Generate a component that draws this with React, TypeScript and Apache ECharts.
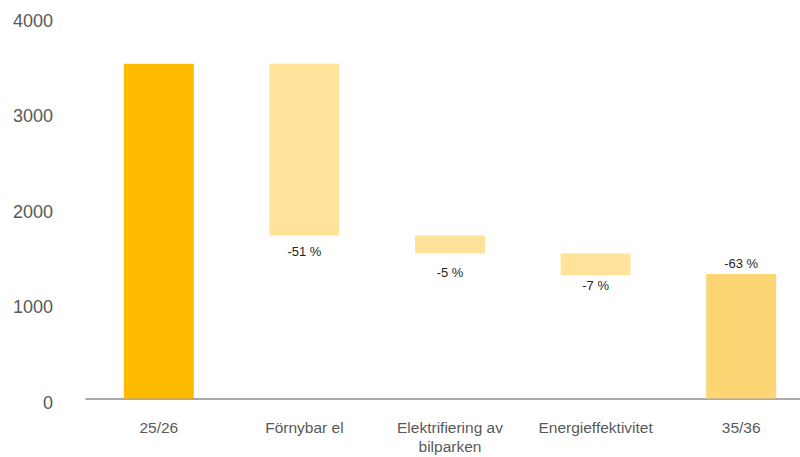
import React, { useEffect, useRef } from "react";
import * as echarts from "echarts";

const categories = ["25/26", "Förnybar el", "Elektrifiering av\nbilparken", "Energieffektivitet", "35/36"];
const startTotal = 3510;
const stepEnds = [1710, 1520, 1292];
const endTotal = 1305;
const pctLabels = ["", "-51 %", "-5 %", "-7 %", "-63 %"];
const yTicks = [0, 1000, 2000, 3000, 4000];

const colorStart = "#FFBB00";
const colorStep = "#FFE39B";
const colorEnd = "#FDD574";

export default function App() {
  const ref = useRef<HTMLDivElement>(null);
  useEffect(() => {
    if (!ref.current) return;
    const chart = echarts.init(ref.current, undefined, { renderer: "svg" });
    const tops = [startTotal, startTotal, ...stepEnds.slice(0, -1)];
    const base: number[] = [0, ...stepEnds, 0];
    const vis: number[] = [
      startTotal,
      ...stepEnds.map((v, i) => tops[i + 1] - v),
      endTotal,
    ];
    const labelDist = [0, 10, 12, 4, 4];
    const visData = vis.map((v, i) => ({
      value: v,
      itemStyle: { color: i === 0 ? colorStart : i === vis.length - 1 ? colorEnd : colorStep },
      label: {
        show: pctLabels[i] !== "",
        formatter: pctLabels[i],
        position: i === vis.length - 1 ? "top" : "bottom",
        distance: labelDist[i],
      },
    }));
    chart.setOption({
      animation: false,
      grid: { left: 86, width: 728, top: 17, height: 381.5, outerBoundsMode: "none", containLabel: false },
      xAxis: {
        type: "category",
        data: categories,
        axisLine: { lineStyle: { color: "#8c8c8c", width: 1.5 } },
        axisTick: { show: false },
        axisLabel: {
          color: "#595959",
          fontSize: 15.5,
          fontFamily: "Liberation Sans, Arial, sans-serif",
          lineHeight: 19,
          margin: 19,
          interval: 0,
        },
      },
      yAxis: {
        type: "value",
        min: 0,
        max: 4000,
        interval: 1000,
        splitLine: { show: false },
        axisLine: { show: false },
        axisTick: { show: false },
        axisLabel: {
          color: "#595959",
          fontSize: 18,
          fontFamily: "Liberation Sans, Arial, sans-serif",
          margin: 33,
          verticalAlign: "top",
          lineHeight: 8,
          formatter: (v: number) => (yTicks.includes(v) ? String(v) : ""),
        },
      },
      series: [
        {
          type: "bar",
          stack: "w",
          data: base,
          barWidth: 70,
          itemStyle: { color: "transparent" },
          silent: true,
        },
        {
          type: "bar",
          stack: "w",
          data: visData,
          barWidth: 70,
          label: {
            color: "#262626",
            fontSize: 13,
            fontFamily: "Liberation Sans, Arial, sans-serif",
          },
        },
      ],
    });
    return () => chart.dispose();
  }, []);
  return <div ref={ref} style={{ width: 800, height: 457, position: "absolute", left: 0, top: 0 }} />;
}
